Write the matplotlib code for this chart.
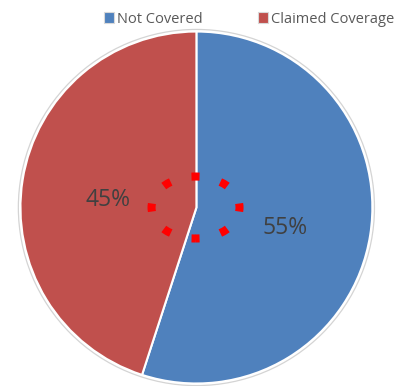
import numpy as np
import matplotlib
matplotlib.use("Agg")
from matplotlib import pyplot as plt
from matplotlib.patches import Ellipse, Circle, Patch

labels = ['Not Covered', 'Claimed Coverage']
values = [55, 45]
colors = ['#4F81BD', '#C0504D']

plt.rcParams['font.family'] = ['Open Sans', 'DejaVu Sans']

fig = plt.figure(figsize=(3.94, 3.86), dpi=100)
ax = fig.add_axes([0.043, -0.0026, 0.911, 0.930])

wedges, texts, autotexts = ax.pie(values, colors=colors, startangle=90, counterclock=False,
                                  autopct='%d%%', pctdistance=0.51,
                                  wedgeprops=dict(edgecolor='white', linewidth=1.5),
                                  textprops=dict(color='#404040', fontsize=16.5))
for t in autotexts:
    x, y = t.get_position()
    t.set_position((x, y - 0.035))
ax.set_xlim(-1.02, 1.02)
ax.set_ylim(-1.02, 1.02)
ax.set_aspect('auto')

# faint outer border
ax.add_patch(Circle((0, 0), 1.012, fill=False, edgecolor='#D4D4D4', linewidth=0.9))

# red dotted annotation ring around the centre (8 square dots)
a, b = 44, 31  # semi-axes in pixels
perim = np.pi * (3 * (a + b) - np.sqrt((3 * a + b) * (a + 3 * b))) * 0.72  # points
lw = 5.8
gap = perim / 8 / lw - 1
ring = Ellipse((-0.005, 0.0), 2 * a / 176, 2 * b / 176, fill=False, edgecolor='#FF0000',
               linewidth=lw, linestyle=(0.5, (1, gap)), capstyle='butt', zorder=5)
ax.add_patch(ring)

handles = [Patch(facecolor=c, edgecolor='#D9D9D9', linewidth=0.8) for c in colors]
fig.legend(handles, labels, loc='upper left', bbox_to_anchor=(0.23, 1.004), ncol=2,
           frameon=False, fontsize=10.5, handlelength=0.7, handleheight=0.7,
           handletextpad=0.2, columnspacing=3.8, labelcolor='#595959')

fig.savefig('out.png', dpi=100)
